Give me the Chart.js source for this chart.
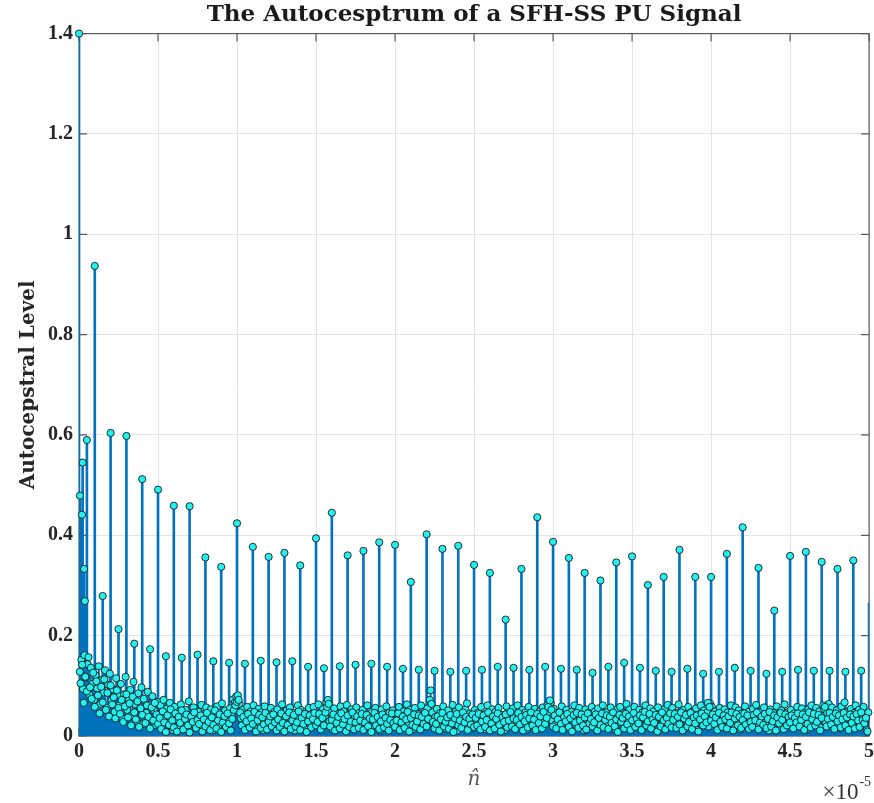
<!DOCTYPE html>
<html>
<head>
<meta charset="utf-8">
<script src="https://cdn.jsdelivr.net/npm/chart.js@4.4.0/dist/chart.umd.min.js"></script>
<style>
  html, body { margin: 0; padding: 0; background: #fff; }
  #wrap { width: 874px; height: 803px; position: relative; }
</style>
</head>
<body>
<div id="wrap"><canvas id="cepstrum_chart"></canvas></div>
<script>
// axis ticks (x in units of 1e-5)
var xTicks = [0, 0.5, 1, 1.5, 2, 2.5, 3, 3.5, 4, 4.5, 5];
var xTickLabels = ['0', '0.5', '1', '1.5', '2', '2.5', '3', '3.5', '4', '4.5', '5'];
var yTicks = [0, 0.2, 0.4, 0.6, 0.8, 1, 1.2, 1.4];
var yTickLabels = ['0', '0.2', '0.4', '0.6', '0.8', '1', '1.2', '1.4'];

// main rahmonic peaks, every 0.1e-5
var peakX = [0, 0.1, 0.2, 0.3, 0.4, 0.5, 0.6, 0.7, 0.8, 0.9,
  1, 1.1, 1.2, 1.3, 1.4, 1.5, 1.6, 1.7, 1.8, 1.9,
  2, 2.1, 2.2, 2.3, 2.4, 2.5, 2.6, 2.7, 2.8, 2.9,
  3, 3.1, 3.2, 3.3, 3.4, 3.5, 3.6, 3.7, 3.8, 3.9,
  4, 4.1, 4.2, 4.3, 4.4, 4.5, 4.6, 4.7, 4.8, 4.9, 5];
var peakY = [1.400, 0.937, 0.604, 0.598, 0.512, 0.491, 0.459, 0.458, 0.356, 0.337,
  0.424, 0.377, 0.357, 0.365, 0.340, 0.394, 0.445, 0.360, 0.369, 0.386,
  0.381, 0.307, 0.402, 0.373, 0.379, 0.341, 0.325, 0.232, 0.333, 0.436,
  0.387, 0.355, 0.325, 0.310, 0.346, 0.358, 0.301, 0.317, 0.371, 0.317,
  0.317, 0.363, 0.416, 0.335, 0.250, 0.359, 0.367, 0.347, 0.333, 0.350,
  0.265];

// half-way peaks
var sideX = [0.15, 0.25, 0.35, 0.45, 0.55, 0.65, 0.75, 0.85, 0.95,
  1.05, 1.15, 1.25, 1.35, 1.45, 1.55, 1.65, 1.75, 1.85, 1.95,
  2.05, 2.15, 2.25, 2.35, 2.45, 2.55, 2.65, 2.75, 2.85, 2.95,
  3.05, 3.15, 3.25, 3.35, 3.45, 3.55, 3.65, 3.75, 3.85, 3.95,
  4.05, 4.15, 4.25, 4.35, 4.45, 4.55, 4.65, 4.75, 4.85, 4.95];
var sideY = [0.279, 0.213, 0.184, 0.173, 0.159, 0.156, 0.162, 0.149, 0.146,
  0.144, 0.150, 0.147, 0.149, 0.138, 0.135, 0.139, 0.142, 0.144, 0.138,
  0.134, 0.132, 0.130, 0.128, 0.130, 0.132, 0.138, 0.136, 0.132, 0.138,
  0.134, 0.132, 0.126, 0.138, 0.146, 0.136, 0.130, 0.128, 0.134, 0.124,
  0.128, 0.136, 0.130, 0.124, 0.128, 0.132, 0.130, 0.130, 0.128, 0.130];

// low quefrency cluster
var earlyX = [0.006, 0.019, 0.023, 0.032, 0.037, 0.05];
var earlyY = [0.479, 0.441, 0.545, 0.333, 0.269, 0.590];

// noise floor, two interleaved runs of samples 0.01e-5 apart
var noiseStep = 0.01;
var noiseA = [
  0.128,0.152,0.094,0.161,0.117,0.143,0.083,0.136,0.104,0.072,0.121,0.095,0.139,0.064,0.112,0.087,0.131,0.056,0.102,0.124,0.071,0.093,0.048,0.115,0.082,
  0.061,0.104,0.035,0.083,0.118,0.052,0.074,0.092,0.041,0.108,0.063,0.029,0.085,0.054,0.097,0.024,0.071,0.046,0.088,0.062,0.033,0.079,0.051,0.022,0.068,
  0.043,0.061,0.018,0.072,0.035,0.054,0.027,0.066,0.041,0.012,0.058,0.033,0.047,0.021,0.063,0.038,0.015,0.052,0.029,0.069,0.036,0.024,0.057,0.043,0.019,
  0.048,0.031,0.062,0.016,0.044,0.057,0.025,0.039,0.053,0.011,0.046,0.034,0.059,0.022,0.041,0.065,0.028,0.051,0.037,0.014,0.055,0.042,0.073,0.066,0.079,
  0.081,0.064,0.035,0.052,0.019,0.043,0.058,0.027,0.049,0.033,0.061,0.015,0.038,0.054,0.026,0.047,0.012,0.059,0.036,0.044,0.021,0.056,0.031,0.048,0.017,
  0.053,0.029,0.042,0.063,0.018,0.037,0.051,0.024,0.057,0.033,0.046,0.011,0.039,0.061,0.027,0.052,0.035,0.019,0.048,0.031,0.056,0.022,0.044,0.058,0.026,
  0.041,0.063,0.032,0.017,0.054,0.038,0.066,0.072,0.029,0.047,0.013,0.055,0.036,0.043,0.021,0.059,0.034,0.049,0.016,0.062,0.028,0.045,0.053,0.024,0.039,
  0.057,0.031,0.046,0.019,0.052,0.037,0.024,0.061,0.042,0.015,0.048,0.033,0.056,0.027,0.044,0.011,0.053,0.038,0.022,0.059,0.035,0.047,0.018,0.051,0.029,
  0.045,0.026,0.058,0.034,0.017,0.049,0.041,0.063,0.023,0.052,0.037,0.014,0.056,0.031,0.044,0.028,0.061,0.039,0.019,0.048,0.055,0.033,0.091,0.047,0.025,
  0.038,0.054,0.021,0.046,0.032,0.059,0.015,0.043,0.051,0.027,0.036,0.062,0.024,0.049,0.011,0.057,0.034,0.041,0.019,0.053,0.065,0.029,0.045,0.037,0.016,
  0.052,0.033,0.047,0.021,0.058,0.039,0.014,0.044,0.061,0.026,0.035,0.053,0.018,0.048,0.031,0.056,0.023,0.042,0.037,0.012,0.059,0.028,0.046,0.034,0.055,
  0.027,0.043,0.061,0.019,0.036,0.052,0.024,0.047,0.013,0.058,0.032,0.045,0.021,0.054,0.039,0.016,0.049,0.034,0.057,0.029,0.041,0.062,0.048,0.066,0.031,
  0.054,0.023,0.046,0.035,0.018,0.059,0.041,0.027,0.052,0.033,0.014,0.048,0.037,0.061,0.022,0.044,0.056,0.029,0.039,0.011,0.053,0.034,0.047,0.025,0.058,
  0.036,0.049,0.017,0.055,0.042,0.028,0.061,0.033,0.047,0.021,0.039,0.057,0.024,0.045,0.013,0.052,0.031,0.058,0.037,0.019,0.046,0.064,0.029,0.053,0.041,
  0.022,0.058,0.044,0.031,0.052,0.016,0.047,0.036,0.061,0.025,0.041,0.055,0.019,0.049,0.034,0.011,0.057,0.038,0.045,0.027,0.053,0.032,0.062,0.018,0.043,
  0.056,0.028,0.046,0.034,0.063,0.021,0.039,0.052,0.015,0.044,0.058,0.031,0.048,0.024,0.037,0.055,0.012,0.043,0.061,0.029,0.051,0.035,0.047,0.019,0.064,
  0.058,0.033,0.049,0.021,0.044,0.056,0.027,0.038,0.053,0.016,0.047,0.035,0.061,0.024,0.042,0.057,0.029,0.051,0.013,0.045,0.034,0.059,0.022,0.048,0.037,
  0.025,0.054,0.041,0.062,0.018,0.036,0.049,0.031,0.057,0.022,0.044,0.011,0.053,0.038,0.046,0.027,0.059,0.034,0.015,0.051,0.042,0.063,0.029,0.047,0.033,
  0.052,0.019,0.045,0.036,0.058,0.024,0.041,0.055,0.028,0.047,0.013,0.053,0.037,0.061,0.021,0.043,0.056,0.032,0.049,0.017,0.039,0.054,0.026,0.046,0.064,
  0.031,0.057,0.044,0.022,0.051,0.038,0.016,0.059,0.043,0.067,0.027,0.048,0.035,0.054,0.019,0.046,0.061,0.033,0.052,0.024,0.041,0.058,0.029,0.012,0.047
];
var noiseB = [
  0.105,0.142,0.066,0.118,0.089,0.157,0.097,0.074,0.126,0.058,0.109,0.081,0.045,0.098,0.067,0.113,0.052,0.086,0.039,0.101,0.063,0.077,0.035,0.091,0.056,
  0.044,0.072,0.028,0.059,0.083,0.037,0.065,0.021,0.078,0.047,0.033,0.069,0.018,0.055,0.042,0.074,0.026,0.061,0.038,0.015,0.057,0.031,0.066,0.043,0.024,
  0.036,0.014,0.049,0.027,0.008,0.041,0.022,0.053,0.031,0.017,0.045,0.009,0.038,0.026,0.051,0.013,0.034,0.043,0.021,0.007,0.039,0.028,0.047,0.016,0.032,
  0.024,0.041,0.009,0.033,0.019,0.046,0.028,0.012,0.037,0.022,0.051,0.015,0.031,0.043,0.008,0.027,0.039,0.018,0.045,0.025,0.011,0.034,0.052,0.061,0.068,
  0.072,0.047,0.021,0.038,0.012,0.029,0.044,0.017,0.035,0.024,0.048,0.009,0.031,0.042,0.016,0.037,0.023,0.046,0.013,0.028,0.039,0.019,0.043,0.027,0.011,
  0.033,0.018,0.045,0.026,0.009,0.039,0.022,0.047,0.014,0.031,0.042,0.019,0.027,0.049,0.012,0.036,0.024,0.044,0.008,0.029,0.041,0.017,0.034,0.046,0.021,
  0.028,0.044,0.013,0.036,0.021,0.047,0.058,0.064,0.019,0.032,0.043,0.011,0.026,0.038,0.015,0.045,0.023,0.034,0.009,0.041,0.018,0.029,0.047,0.013,0.027,
  0.039,0.016,0.031,0.044,0.012,0.027,0.042,0.019,0.035,0.008,0.033,0.046,0.021,0.038,0.014,0.029,0.043,0.017,0.036,0.024,0.011,0.032,0.045,0.026,0.018,
  0.031,0.045,0.012,0.027,0.039,0.016,0.033,0.048,0.009,0.036,0.022,0.043,0.018,0.029,0.041,0.013,0.038,0.024,0.046,0.019,0.034,0.072,0.064,0.028,0.015,
  0.024,0.039,0.011,0.033,0.046,0.019,0.028,0.037,0.014,0.042,0.025,0.008,0.035,0.044,0.021,0.031,0.016,0.047,0.027,0.038,0.012,0.034,0.023,0.043,0.018,
  0.036,0.021,0.044,0.013,0.029,0.041,0.018,0.032,0.047,0.011,0.025,0.039,0.015,0.034,0.045,0.022,0.009,0.037,0.028,0.043,0.017,0.031,0.048,0.019,0.035,
  0.014,0.032,0.046,0.023,0.038,0.011,0.029,0.042,0.017,0.035,0.047,0.021,0.033,0.012,0.044,0.026,0.039,0.015,0.048,0.024,0.036,0.058,0.071,0.052,0.019,
  0.041,0.015,0.033,0.047,0.024,0.012,0.038,0.029,0.044,0.018,0.035,0.009,0.042,0.027,0.046,0.016,0.031,0.043,0.021,0.037,0.013,0.045,0.025,0.034,0.019,
  0.027,0.043,0.011,0.036,0.022,0.045,0.017,0.032,0.041,0.014,0.038,0.026,0.047,0.019,0.033,0.008,0.042,0.028,0.036,0.015,0.044,0.023,0.039,0.012,0.031,
  0.046,0.018,0.034,0.025,0.041,0.012,0.037,0.048,0.021,0.029,0.044,0.015,0.033,0.026,0.042,0.009,0.038,0.019,0.047,0.031,0.013,0.036,0.024,0.045,0.017,
  0.032,0.044,0.016,0.038,0.023,0.047,0.011,0.035,0.042,0.019,0.028,0.046,0.014,0.037,0.025,0.041,0.009,0.033,0.045,0.021,0.039,0.027,0.066,0.058,0.031,
  0.043,0.024,0.037,0.012,0.046,0.029,0.018,0.041,0.033,0.015,0.039,0.026,0.047,0.011,0.035,0.044,0.021,0.038,0.016,0.032,0.045,0.023,0.041,0.014,0.028,
  0.018,0.042,0.031,0.047,0.013,0.027,0.039,0.022,0.044,0.016,0.034,0.048,0.019,0.029,0.041,0.011,0.037,0.025,0.046,0.032,0.014,0.043,0.021,0.038,0.027,
  0.041,0.015,0.036,0.027,0.045,0.019,0.032,0.043,0.012,0.038,0.024,0.047,0.017,0.033,0.044,0.021,0.028,0.042,0.011,0.036,0.061,0.058,0.019,0.034,0.046,
  0.023,0.038,0.014,0.045,0.029,0.041,0.017,0.033,0.046,0.021,0.037,0.012,0.043,0.026,0.039,0.015,0.044,0.031,0.018,0.047,0.032,0.025,0.036,0.009,0.039
];

var xMax = 5;
var stemColor = '#0072bd';

var noise_points = [];
noiseA.forEach(function (v, i) { noise_points.push({ x: (i + 0.5) * noiseStep, y: v }); });
noiseB.forEach(function (v, i) { noise_points.push({ x: (i + 1) * noiseStep, y: v }); });
var peak_points = [];
earlyX.forEach(function (v, i) { peak_points.push({ x: v, y: earlyY[i] }); });
sideX.forEach(function (v, i) { peak_points.push({ x: v, y: sideY[i] }); });
peakX.forEach(function (v, i) { peak_points.push({ x: v, y: peakY[i] }); });
// marker of the stem sitting on the right border is not shown in the figure
var marker_points = noise_points.concat(peak_points).filter(function (p) { return p.x < xMax; });

var axesBox = {
  id: 'axesBox',
  beforeDatasetsDraw: function (chart) {
    var ctx = chart.ctx, a = chart.chartArea;
    var xs = chart.scales.x, ys = chart.scales.y;
    ctx.save();
    ctx.strokeStyle = '#5a5a5a';
    ctx.lineWidth = 1.2;
    ctx.strokeRect(a.left, a.top, a.right - a.left, a.bottom - a.top);
    ctx.beginPath();
    xTicks.forEach(function (t) {
      var px = xs.getPixelForValue(t);
      ctx.moveTo(px, a.bottom); ctx.lineTo(px, a.bottom - 8);
      ctx.moveTo(px, a.top); ctx.lineTo(px, a.top + 8);
    });
    yTicks.forEach(function (t) {
      var py = ys.getPixelForValue(t);
      ctx.moveTo(a.left, py); ctx.lineTo(a.left + 8, py);
      ctx.moveTo(a.right, py); ctx.lineTo(a.right - 8, py);
    });
    ctx.stroke();
    ctx.restore();
  },
  afterDraw: function (chart) {
    var ctx = chart.ctx, a = chart.chartArea;
    ctx.save();
    ctx.fillStyle = '#333';
    ctx.textBaseline = 'alphabetic';
    ctx.textAlign = 'right';
    ctx.font = '14px "Liberation Serif"';
    ctx.fillText('-5', a.right + 2, 786);
    var w = ctx.measureText('-5').width;
    ctx.font = '23px "Liberation Serif"';
    ctx.fillText('\u00d710', a.right + 1 - w, 799);
    ctx.restore();
  }
};

var ctx = document.getElementById('cepstrum_chart').getContext('2d');
var cepstrum_chart = new Chart(ctx, {
  type: 'scatter',
  data: {
    datasets: [{
      type: 'scatter',
      label: 'markers',
      data: marker_points,
      pointRadius: 3.6,
      pointBackgroundColor: '#22f2f2',
      pointBorderColor: '#1a1a1a',
      pointBorderWidth: 0.9,
      clip: 8,
      order: 0
    }, {
      type: 'bar',
      label: 'peak stems',
      data: peak_points,
      backgroundColor: stemColor,
      borderWidth: 0,
      barThickness: 2,
      grouped: false,
      order: 1
    }, {
      type: 'bar',
      label: 'noise stems',
      data: noise_points,
      backgroundColor: stemColor,
      borderWidth: 0,
      barThickness: 1.3,
      grouped: false,
      order: 2
    }]
  },
  options: {
    responsive: true,
    maintainAspectRatio: false,
    animation: false,
    layout: { padding: { left: 1, right: 1, top: 0, bottom: 0 } },
    plugins: {
      legend: { display: false },
      tooltip: { enabled: false },
      title: {
        display: true,
        fullSize: false,
        text: 'The Autocesptrum of a SFH-SS PU Signal',
        color: '#1a1a1a',
        font: { family: '"DejaVu Serif"', size: 23, weight: 'bold' },
        padding: { top: 1, bottom: 5 }
      }
    },
    scales: {
      x: {
        type: 'linear',
        min: 0,
        max: xMax,
        offset: false,
        afterBuildTicks: function (axis) { axis.ticks = xTicks.map(function (v) { return { value: v }; }); },
        afterFit: function (axis) { axis.paddingRight = 0; },
        ticks: {
          color: '#262626',
          padding: 6,
          maxRotation: 0,
          font: { family: '"Liberation Serif"', size: 20, weight: 'bold', lineHeight: 1.0 },
          callback: function (v, i) { return xTickLabels[i]; }
        },
        grid: { color: '#e3e3e3', drawTicks: false, offset: false },
        border: { display: false },
        title: {
          display: true,
          text: 'n\u0302',
          color: '#555',
          font: { family: '"DejaVu Serif"', size: 20, style: 'italic' },
          padding: { top: 0, bottom: 11 }
        }
      },
      y: {
        type: 'linear',
        min: 0,
        max: 1.4,
        afterBuildTicks: function (axis) { axis.ticks = yTicks.map(function (v) { return { value: v }; }); },
        ticks: {
          color: '#262626',
          padding: 6,
          font: { family: '"Liberation Serif"', size: 20, weight: 'bold' },
          callback: function (v, i) { return yTickLabels[i]; }
        },
        grid: { color: '#e3e3e3', drawTicks: false },
        border: { display: false },
        title: {
          display: true,
          text: 'Autocepstral Level',
          color: '#262626',
          font: { family: '"DejaVu Serif"', size: 20, weight: 'bold' },
          padding: { top: 16, bottom: 1 }
        }
      }
    }
  },
  plugins: [axesBox]
});
</script>
</body>
</html>
